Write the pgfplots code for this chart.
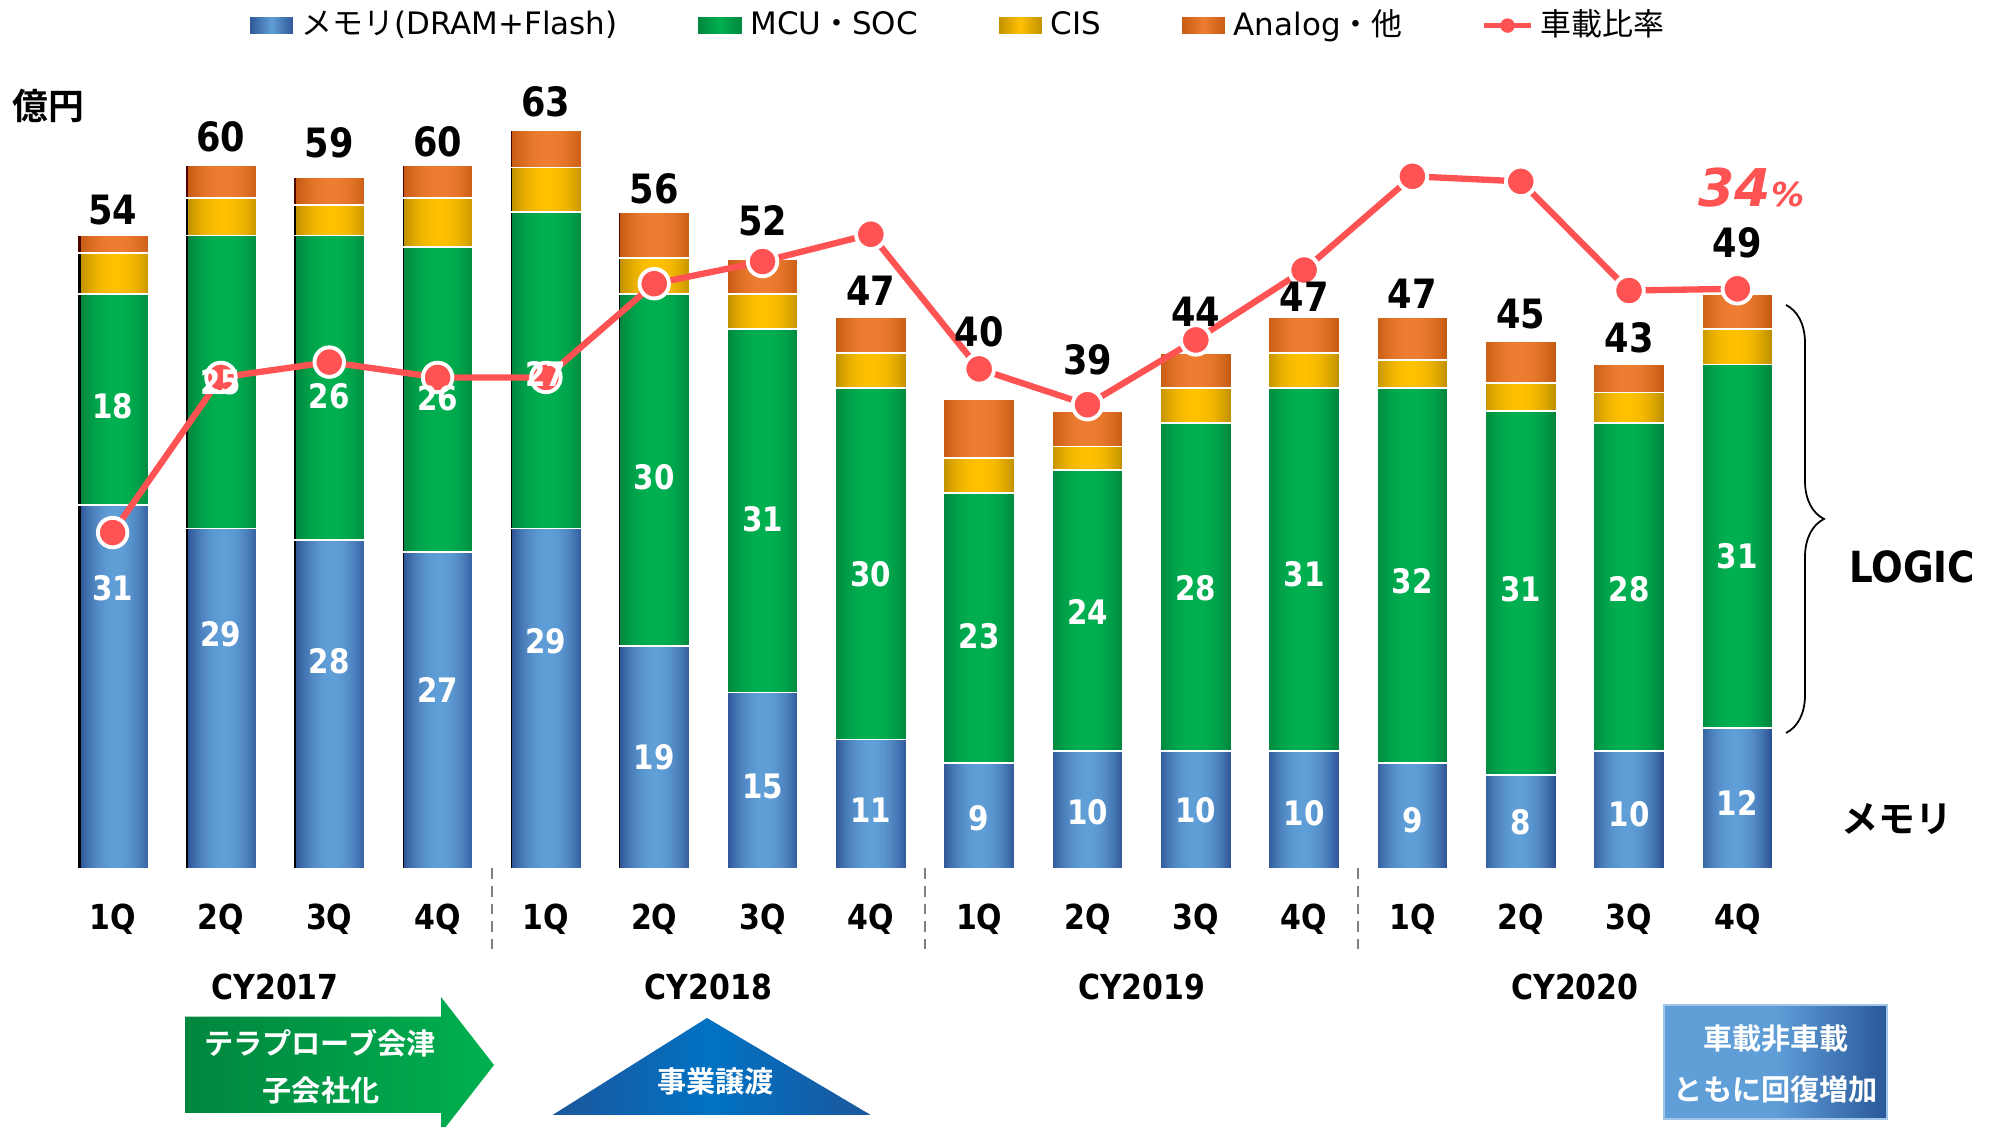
\documentclass[border=0pt]{standalone}
\usepackage{fontspec}
\setmainfont{DejaVu Sans}
\newfontfamily\lab{DejaVu Sans}[FakeStretch=0.87]
\newfontfamily\jp{Noto Sans CJK JP}[BoldFont={Noto Sans CJK JP Bold}]
\usepackage{pgfplots}
\usepackage{pgfplotstable}
\pgfplotsset{compat=1.18}
\usetikzlibrary{decorations.pathreplacing}

\definecolor{memL}{RGB}{95,158,215}
\definecolor{memD}{RGB}{47,85,151}
\definecolor{mcuL}{RGB}{0,176,80}
\definecolor{mcuD}{RGB}{0,134,62}
\definecolor{cisL}{RGB}{255,192,0}
\definecolor{cisD}{RGB}{191,144,0}
\definecolor{anaL}{RGB}{237,125,49}
\definecolor{anaD}{RGB}{197,90,17}
\definecolor{linered}{RGB}{255,82,82}
\definecolor{triL}{RGB}{0,114,195}
\definecolor{triD}{RGB}{28,86,156}
\definecolor{boxL}{RGB}{96,158,216}
\definecolor{boxD}{RGB}{40,88,152}

% one horizontal dark-light-dark ramp per bar (16 bars, width 0.66 of the spacing)
\pgfdeclarefunctionalshading{memshade}{\pgfpoint{-50bp}{-50bp}}{\pgfpoint{50bp}{50bp}}{}{
  pop 24.9066 add dup 3.180919 div floor 3.180919 mul sub 2.099407 div
  2 mul 1 sub dup mul 1 exch sub
  dup 0.189 mul 0.184 add exch dup 0.287 mul 0.333 add exch 0.251 mul 0.592 add}
\pgfdeclarefunctionalshading{mcushade}{\pgfpoint{-50bp}{-50bp}}{\pgfpoint{50bp}{50bp}}{}{
  pop 24.9066 add dup 3.180919 div floor 3.180919 mul sub 2.099407 div
  2 mul 1 sub dup mul 1 exch sub
  dup 0.0 mul 0.0 add exch dup 0.165 mul 0.525 add exch 0.071 mul 0.243 add}
\pgfdeclarefunctionalshading{cisshade}{\pgfpoint{-50bp}{-50bp}}{\pgfpoint{50bp}{50bp}}{}{
  pop 24.9066 add dup 3.180919 div floor 3.180919 mul sub 2.099407 div
  2 mul 1 sub dup mul 1 exch sub
  dup 0.251 mul 0.749 add exch dup 0.188 mul 0.565 add exch 0.0 mul 0.0 add}
\pgfdeclarefunctionalshading{anashade}{\pgfpoint{-50bp}{-50bp}}{\pgfpoint{50bp}{50bp}}{}{
  pop 24.9066 add dup 3.180919 div floor 3.180919 mul sub 2.099407 div
  2 mul 1 sub dup mul 1 exch sub
  dup 0.156 mul 0.773 add exch dup 0.137 mul 0.353 add exch 0.125 mul 0.067 add}

% quarter, memory, MCU/SOC, CIS, Analog, automotive ratio (%)
\pgfplotstableread{
x  mem mcu cis ana ratio
0  31  18  3.5 1.5 19.7
1  29  25  3.2 2.8 28.8
2  28  26  2.6 2.4 29.7
3  27  26  4.2 2.8 28.8
4  29  27  3.8 3.2 28.8
5  19  30  3.1 3.9 34.3
6  15  31  3.0 3.0 35.6
7  11  30  3.0 3.0 37.2
8  9   23  3.0 5.0 29.3
9  10  24  2.0 3.0 27.2
10 10  28  3.0 3.0 31.0
11 10  31  3.0 3.0 35.1
12 9   32  2.4 3.6 40.6
13 8   31  2.4 3.6 40.3
14 10  28  2.6 2.4 33.9
15 12  31  3.0 3.0 34.0
}\data

\pgfplotsset{
  base/.style={at={(0.585cm,2.586cm)}, anchor=south west, scale only axis,
    width=17.33cm, height=8.438cm, xmin=-0.5, xmax=15.5, clip=false,
    axis line style={draw=none}, tick style={draw=none}, ytick=\empty},
  sqlegend/.style={legend image code/.code={
    \path[left color=#1D, right color=#1D, middle color=#1L] (0cm,-0.095cm) rectangle (0.45cm,0.095cm);}},
}
\tikzset{
  inl/.style={font=\lab\bfseries\fontsize{9.6}{11}\selectfont, text=white, inner sep=0pt},
  tot/.style={font=\lab\bfseries\fontsize{11.5}{13}\selectfont, text=black, inner sep=0pt},
  yr/.style={font=\lab\bfseries\fontsize{9.8}{11}\selectfont, inner sep=0pt},
  jpw/.style={font=\jp\bfseries\fontsize{8.3}{10}\selectfont, text=white, inner sep=0pt},
}
% x, memory label y, memory value, MCU label y, MCU value, total label y, total
\newcommand\bl[7]{%
  \node[inl] at (axis cs:#1,#2) {#3};
  \node[inl] at (axis cs:#1,#4) {#5};
  \node[tot] at (axis cs:#1,#6) {#7};}

\begin{document}
\begin{tikzpicture}
\useasboundingbox (0,0) rectangle (20.06,11.27);

\begin{axis}[base, ymin=0, ymax=72,
    ybar stacked, bar width=0.66,
    xtick={0,...,15},
    xticklabels={1Q,2Q,3Q,4Q,1Q,2Q,3Q,4Q,1Q,2Q,3Q,4Q,1Q,2Q,3Q,4Q},
    xticklabel style={anchor=center, yshift=-0.504cm,
      font=\lab\bfseries\fontsize{9.8}{11}\selectfont},
    legend columns=5,
    legend style={at={(0.52,0.9988)}, anchor=center, draw=none, fill=none,
      font=\fontsize{8.8}{10}\selectfont, inner sep=0pt,
      /tikz/every even column/.append style={column sep=0.72cm}},
  ]
  \addplot[sqlegend=mem, draw=white, line width=0.5pt, shade, shading=memshade]
    table[x=x, y=mem] {\data};
  \addlegendentry{{\jp メモリ}(DRAM+Flash)}
  \addplot[sqlegend=mcu, draw=white, line width=0.5pt, shade, shading=mcushade]
    table[x=x, y=mcu] {\data};
  \addlegendentry{MCU{\jp ・}SOC}
  \addplot[sqlegend=cis, draw=white, line width=0.5pt, shade, shading=cisshade]
    table[x=x, y=cis] {\data};
  \addlegendentry{CIS}
  \addplot[sqlegend=ana, draw=white, line width=0.5pt, shade, shading=anashade]
    table[x=x, y=ana] {\data};
  \addlegendentry{Analog{\jp ・他}}
  \addlegendimage{legend image code/.code={
    \draw[linered, line width=1.4pt] (0cm,0cm) -- (0.47cm,0cm);
    \fill[linered] (0.235cm,0cm) circle (0.065cm);}}
  \addlegendentry{{\jp 車載比率}}
\end{axis}

\begin{axis}[base, ymin=0, ymax=49.5, xtick=\empty]
  \addplot[linered, line width=1.8pt, mark=*, mark size=4.2pt,
    mark options={fill=linered, draw=white, line width=1.1pt}]
    table[x=x, y=ratio] {\data};
\end{axis}

\begin{axis}[base, ymin=0, ymax=72, xtick=\empty]
  \bl{0}{23.9}{31}{39.4}{18}{56.2}{54}
  \bl{1}{20.0}{29}{41.5}{25}{62.4}{60}
  \bl{2}{17.7}{28}{40.3}{26}{61.9}{59}
  \bl{3}{15.2}{27}{40.1}{26}{62.0}{60}
  \bl{4}{19.4}{29}{42.2}{27}{65.4}{63}
  \bl{5}{9.5}{19}{33.4}{30}{58.0}{56}
  \bl{6}{7.0}{15}{29.8}{31}{55.3}{52}
  \bl{7}{5.0}{11}{25.1}{30}{49.3}{47}
  \bl{8}{4.3}{9}{19.8}{23}{45.8}{40}
  \bl{9}{4.8}{10}{21.9}{24}{43.4}{39}
  \bl{10}{5.0}{10}{23.9}{28}{47.5}{44}
  \bl{11}{4.7}{10}{25.1}{31}{48.8}{47}
  \bl{12}{4.1}{9}{24.5}{32}{49.0}{47}
  \bl{13}{3.9}{8}{23.8}{31}{47.3}{45}
  \bl{14}{4.6}{10}{23.8}{28}{45.3}{43}
  \bl{15}{5.6}{12}{26.6}{31}{53.4}{49}
  \draw[gray, densely dashed, line width=0.5pt] (axis cs:3.5,0) -- (axis cs:3.5,-7.3);
  \draw[gray, densely dashed, line width=0.5pt] (axis cs:7.5,0) -- (axis cs:7.5,-7.3);
  \draw[gray, densely dashed, line width=0.5pt] (axis cs:11.5,0) -- (axis cs:11.5,-7.3);
  \node[yr] at (axis cs:1.5,-10.15) {CY2017};
  \node[yr] at (axis cs:5.5,-10.15) {CY2018};
  \node[yr] at (axis cs:9.5,-10.15) {CY2019};
  \node[yr] at (axis cs:13.5,-10.15) {CY2020};
\end{axis}

% unit label and annotations
\node[font=\jp\bfseries\fontsize{10.2}{12}\selectfont, inner sep=0pt] at (0.486,10.21) {億円};
\node[anchor=base west, inner sep=0pt, text=linered] at (16.98,9.203)
  {\fontsize{14.8}{16}\selectfont\bfseries\itshape 34\fontsize{9.4}{11}\selectfont\%};
\draw[line width=0.5pt, decorate, decoration={brace, amplitude=0.38cm}]
  (17.86,8.22) -- (17.86,3.94);
\node[font=\lab\bfseries\fontsize{12.2}{14}\selectfont, inner sep=0pt] at (19.12,5.60) {LOGIC};
\node[font=\jp\bfseries\fontsize{10.5}{12}\selectfont, inner sep=0pt] at (18.97,3.08) {メモリ};

% green block arrow
\path[left color=mcuD, right color=mcuL]
  (1.85,0.14) -- (1.85,1.103) -- (4.41,1.103) -- (4.41,1.30) -- (4.94,0.62)
  -- (4.41,-0.06) -- (4.41,0.14) -- cycle;
\node[jpw] at (3.20,0.843) {テラプローブ会津};
\node[jpw] at (3.21,0.37) {子会社化};

% blue triangle
\path[left color=triD, right color=triD, middle color=triL]
  (5.526,0.12) -- (7.07,1.09) -- (8.707,0.12) -- cycle;
\node[jpw] at (7.155,0.453) {事業譲渡};

% blue box
\path[left color=boxL, right color=boxD, middle color=boxL, draw=boxL!60!white, line width=0.4pt]
  (16.64,0.08) rectangle (18.87,1.22);
\node[jpw] at (17.76,0.88) {車載非車載};
\node[jpw] at (17.76,0.38) {ともに回復増加};
\end{tikzpicture}
\end{document}
